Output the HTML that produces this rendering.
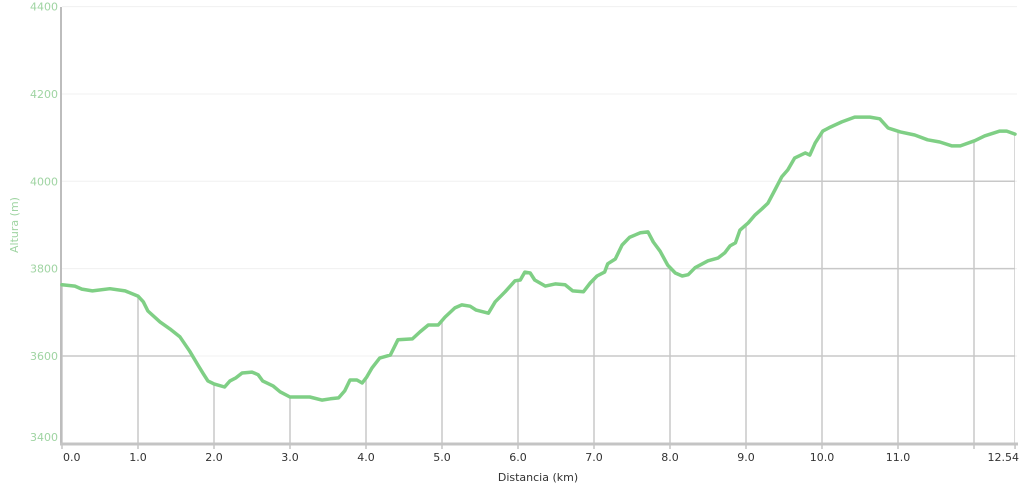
<!DOCTYPE html>
<html><head><meta charset="utf-8"><style>
html,body{margin:0;padding:0;background:#fff;width:1024px;height:496px;overflow:hidden}
svg{display:block}
text{font-family:"DejaVu Sans","Liberation Sans",sans-serif;font-size:11px}
</style></head><body>
<svg id="chart" width="1024" height="496" viewBox="0 0 1024 496"></svg>
<script>
const distKm=[0,0.17,0.26,0.4,0.63,0.83,1.0,1.07,1.13,1.29,1.42,1.55,1.68,1.79,1.86,1.92,2.0,2.14,2.21,2.29,2.37,2.5,2.58,2.64,2.78,2.87,3.0,3.13,3.26,3.42,3.53,3.64,3.72,3.79,3.88,3.95,4.01,4.08,4.18,4.32,4.42,4.61,4.71,4.82,4.95,5.04,5.17,5.26,5.37,5.45,5.61,5.7,5.83,5.96,6.03,6.09,6.16,6.22,6.36,6.49,6.62,6.72,6.86,6.95,7.04,7.14,7.18,7.28,7.37,7.47,7.61,7.71,7.78,7.87,7.97,8.07,8.16,8.24,8.33,8.5,8.63,8.72,8.79,8.86,8.92,9.03,9.12,9.21,9.29,9.38,9.47,9.55,9.64,9.78,9.84,9.91,10.01,10.11,10.26,10.43,10.63,10.76,10.87,11.03,11.22,11.39,11.55,11.71,11.82,12.01,12.14,12.34,12.43,12.54];
const altM=[3763,3760,3753,3749,3754,3749,3737,3724,3703,3678,3662,3644,3611,3579,3559,3543,3536,3529,3543,3550,3561,3563,3557,3543,3531,3518,3506,3506,3506,3499,3502,3504,3520,3545,3545,3538,3552,3573,3595,3602,3637,3639,3655,3671,3671,3689,3710,3717,3714,3705,3698,3724,3747,3772,3774,3792,3790,3774,3760,3765,3763,3749,3747,3767,3783,3792,3811,3822,3854,3872,3882,3884,3861,3840,3808,3790,3783,3786,3802,3818,3824,3836,3852,3859,3888,3905,3923,3937,3950,3980,4010,4026,4053,4065,4060,4088,4115,4124,4136,4147,4147,4143,4122,4113,4106,4095,4090,4081,4081,4093,4104,4115,4115,4108];
const xTicks=[0,1,2,3,4,5,6,7,8,9,10,11,12,12.54];
const xTickLabels=["0.0","1.0","2.0","3.0","4.0","5.0","6.0","7.0","8.0","9.0","10.0","11.0","","12.54"];
const yTicks=[3400,3600,3800,4000,4200,4400];

const NS="http://www.w3.org/2000/svg";
const svg=document.getElementById('chart');
const X0=62,PXKM=76,Y0=443.3,PXM=0.4367;
const xs=v=>X0+v*PXKM, ys=v=>Y0-(v-3400)*PXM;
function mk(t,a,p){const e=document.createElementNS(NS,t);for(const k in a)e.setAttribute(k,a[k]);(p||svg).appendChild(e);return e;}

const pts=distKm.map((d,i)=>xs(d).toFixed(1)+','+ys(altM[i]).toFixed(1)).join(' ');
const defs=mk('defs',{});
const cp=mk('clipPath',{id:'under'},defs);
mk('polygon',{points:xs(0)+','+Y0+' '+pts+' '+xs(distKm[distKm.length-1])+','+Y0},cp);

const gFaint=mk('g',{});


yTicks.forEach(v=>{if(v>3400)mk('line',{x1:X0,x2:1017,y1:ys(v),y2:ys(v),stroke:'#f0f0f0','stroke-width':1},gFaint);});
const gDark=mk('g',{'clip-path':'url(#under)'});


yTicks.forEach(v=>{mk('line',{x1:X0,x2:1017,y1:ys(v),y2:ys(v),stroke:'#c8c8c8','stroke-width':1.5},gDark);});
xTicks.forEach(v=>{mk('line',{x1:xs(v),x2:xs(v),y1:0,y2:Y0,stroke:'#c8c8c8','stroke-width':1.5},gDark);});

const ya=mk('line',{x1:61,x2:61,y1:7,y2:445,stroke:'#bdbdbd','stroke-width':2});


const xa=mk('line',{x1:60,x2:1018,y1:444,y2:444,stroke:'#c4c4c4','stroke-width':3});



const ln=mk('polyline',{points:pts,fill:'none',stroke:'#7fcf85','stroke-width':3.5,'stroke-linejoin':'round','stroke-linecap':'round'});



yTicks.forEach(v=>{
  let y=ys(v)+4; if(v===3400)y=441;
  const t=mk('text',{x:58,y:y,'text-anchor':'end',fill:'#9fd4a2'});t.textContent=v;
  
  
});
xTicks.forEach((v,i)=>{
  const x=xs(v);
  const tm=mk('line',{x1:x,x2:x,y1:444,y2:449,stroke:'#c4c4c4','stroke-width':1.5});
  
  
  let lx=x, anc='middle'; if(i===0){lx=63;anc='start';} if(i===xTicks.length-1){lx=1019;anc='end';}
  const t=mk('text',{x:lx,y:461,'text-anchor':anc,fill:'#333'});t.textContent=xTickLabels[i];
  
  
});
const xt=mk('text',{x:538,y:481,'text-anchor':'middle',fill:'#333'});xt.textContent='Distancia (km)';


const yt=mk('text',{x:18,y:225,'text-anchor':'middle',fill:'#9fd4a2',transform:'rotate(-90 18 225)'});yt.textContent='Altura (m)';


</script>
</body></html>
